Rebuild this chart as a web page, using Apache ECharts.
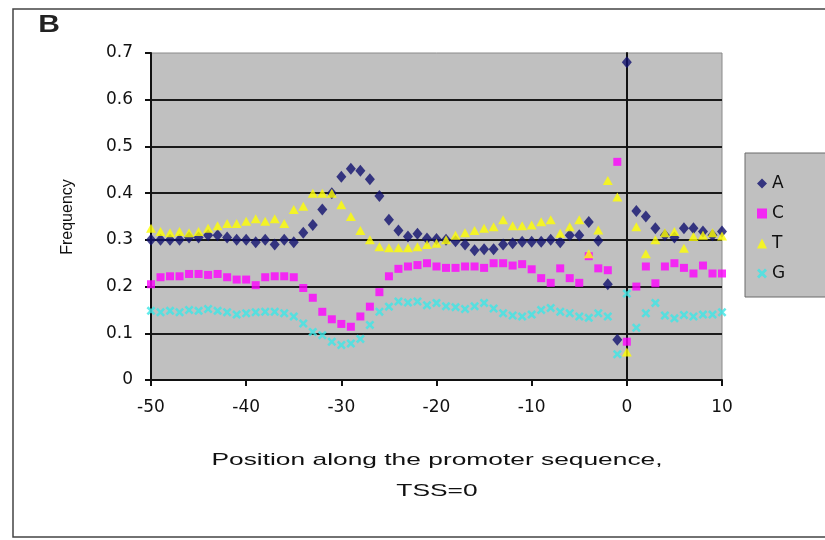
<!DOCTYPE html>
<html>
<head>
<meta charset="utf-8">
<script src="https://cdn.jsdelivr.net/npm/echarts@6/dist/echarts.min.js"></script>
<style>
html,body{margin:0;padding:0;background:#fff;}
#chart{width:825px;height:540px;}
</style>
</head>
<body>
<div id="chart"></div>
<script>
const positions = [-50,-49,-48,-47,-46,-45,-44,-43,-42,-41,
  -40,-39,-38,-37,-36,-35,-34,-33,-32,-31,
  -30,-29,-28,-27,-26,-25,-24,-23,-22,-21,
  -20,-19,-18,-17,-16,-15,-14,-13,-12,-11,
  -10,-9,-8,-7,-6,-5,-4,-3,-2,-1,
  0,1,2,3,4,5,6,7,8,9,10];

const seriesNames = ['A','C','T','G'];

const freqA = [0.30,0.30,0.30,0.30,0.305,0.305,0.31,0.31,0.305,0.30,
  0.30,0.295,0.30,0.29,0.30,0.295,0.315,0.332,0.365,0.40,
  0.435,0.452,0.448,0.43,0.394,0.343,0.32,0.307,0.313,0.303,
  0.302,0.30,0.297,0.29,0.278,0.28,0.28,0.29,0.293,0.296,
  0.296,0.296,0.30,0.295,0.31,0.31,0.338,0.298,0.205,0.086,
  0.68,0.362,0.35,0.325,0.31,0.305,0.325,0.325,0.318,0.31,0.318];

const freqC = [0.205,0.22,0.222,0.222,0.227,0.227,0.225,0.227,0.22,0.215,
  0.215,0.203,0.22,0.222,0.222,0.22,0.197,0.176,0.146,0.13,
  0.12,0.114,0.136,0.157,0.188,0.222,0.238,0.243,0.246,0.25,
  0.243,0.24,0.24,0.243,0.243,0.24,0.25,0.25,0.245,0.248,
  0.237,0.218,0.208,0.239,0.218,0.208,0.265,0.239,0.235,0.467,
  0.082,0.20,0.243,0.207,0.243,0.25,0.24,0.228,0.245,0.228,0.228];

const freqT = [0.325,0.318,0.315,0.318,0.315,0.318,0.325,0.33,0.335,0.335,
  0.34,0.345,0.34,0.345,0.335,0.365,0.372,0.40,0.40,0.40,
  0.375,0.35,0.32,0.30,0.285,0.283,0.283,0.283,0.285,0.29,
  0.293,0.30,0.31,0.315,0.32,0.325,0.328,0.343,0.33,0.33,
  0.332,0.339,0.343,0.314,0.328,0.343,0.27,0.321,0.427,0.392,
  0.06,0.328,0.27,0.30,0.315,0.318,0.282,0.307,0.31,0.315,0.308];

const freqG = [0.148,0.145,0.148,0.145,0.15,0.148,0.152,0.148,0.145,0.14,
  0.143,0.145,0.146,0.146,0.143,0.136,0.121,0.103,0.096,0.082,
  0.075,0.078,0.088,0.118,0.146,0.157,0.168,0.166,0.168,0.16,
  0.165,0.158,0.156,0.152,0.158,0.165,0.153,0.143,0.138,0.136,
  0.14,0.15,0.154,0.146,0.143,0.136,0.133,0.143,0.136,0.055,
  0.185,0.112,0.143,0.165,0.138,0.132,0.139,0.136,0.14,0.14,0.145];

const xTicks = [-50,-40,-30,-20,-10,0,10];
const yTicks = [0,0.1,0.2,0.3,0.4,0.5,0.6,0.7];

const panelLabel = 'B';
const yTitle = 'Frequency';
const xTitle1 = 'Position along the promoter sequence,';
const xTitle2 = 'TSS=0';

function pairs(vals){ return positions.map((p,i)=>[p, vals[i]]); }

const xSymbol = 'path://M0,2 L2,0 L5,3 L8,0 L10,2 L7,5 L10,8 L8,10 L5,7 L2,10 L0,8 L3,5 Z';

const chart = echarts.init(document.getElementById('chart'), null, {renderer:'canvas'});
const option = {
  backgroundColor:'#ffffff',
  animation:false,
  grid:{left:151, right:103, top:53, bottom:160, show:true, backgroundColor:'#c0c0c0', borderColor:'#8a8a8a', borderWidth:1},
  xAxis:{
    type:'value', min:xTicks[0], max:xTicks[xTicks.length-1], interval:10,
    axisLine:{show:true, onZero:false, lineStyle:{color:'#111', width:2}},
    axisTick:{show:true, length:6, lineStyle:{color:'#111', width:2}},
    splitLine:{show:false},
    axisLabel:{color:'#111', fontFamily:'DejaVu Sans', fontSize:17, margin:19,
      formatter:v=>xTicks.includes(v)?String(v):''}
  },
  yAxis:[{
    type:'value', min:0, max:0.7, interval:0.1, position:'left',
    axisLine:{show:true, onZero:false, lineStyle:{color:'#111', width:2}},
    axisTick:{show:true, length:6, lineStyle:{color:'#111', width:2}},
    splitLine:{show:true, showMaxLine:false, showMinLine:false, lineStyle:{color:'#1a1a1a', width:2}},
    axisLabel:{color:'#111', fontFamily:'DejaVu Sans', fontSize:17, margin:18,
      formatter:v=>{const t=yTicks.find(y=>Math.abs(y-v)<1e-9); return t===undefined?'':String(t);}}
  },{
    type:'value', min:0, max:0.7, interval:0.1, position:'right',
    axisLine:{show:true, onZero:true, onZeroAxisIndex:0, lineStyle:{color:'#111', width:2}},
    axisTick:{show:false}, axisLabel:{show:false}, splitLine:{show:false}
  }],
  legend:{
    orient:'vertical', left:745, top:153,
    itemWidth:10, itemHeight:10, itemGap:13,
    padding:[22,60,15,12],
    backgroundColor:'#c0c0c0', borderColor:'#6a6a6a', borderWidth:1,
    textStyle:{color:'#111', fontFamily:'DejaVu Sans', fontSize:17},
    data:seriesNames
  },
  series:[
    {name:seriesNames[0], type:'scatter', symbol:'diamond', symbolSize:[10,12],
     itemStyle:{color:'#10106e'}, data:pairs(freqA), z:2},
    {name:seriesNames[1], type:'scatter', symbol:'rect', symbolSize:8,
     itemStyle:{color:'#ff00ff'}, data:pairs(freqC), z:3},
    {name:seriesNames[2], type:'scatter', symbol:'triangle', symbolSize:[10,9],
     itemStyle:{color:'#ffff00'}, data:pairs(freqT), z:4},
    {name:seriesNames[3], type:'scatter', symbol:xSymbol, symbolSize:9,
     itemStyle:{color:'#3ce6e6'}, data:pairs(freqG), z:5}
  ],
  graphic:[
    {type:'rect', z:-10, silent:true, shape:{x:13, y:9, width:840, height:528},
     style:{fill:'none', stroke:'#444', lineWidth:1.5}},
    {type:'text', x:49, y:25, scaleX:1.25, silent:true,
     style:{text:panelLabel, font:'bold 24px "Liberation Sans"', fill:'#222', textAlign:'center', textVerticalAlign:'middle'}},
    {type:'text', x:68, y:217, rotation:Math.PI/2, silent:true,
     style:{text:yTitle, font:'16px "Liberation Sans"', fill:'#111', textAlign:'center', textVerticalAlign:'middle'}},
    {type:'text', x:437, y:460, scaleX:1.55, silent:true,
     style:{text:xTitle1, font:'17px "Liberation Sans"', fill:'#111', textAlign:'center', textVerticalAlign:'middle'}},
    {type:'text', x:437, y:491, scaleX:1.55, silent:true,
     style:{text:xTitle2, font:'17px "Liberation Sans"', fill:'#111', textAlign:'center', textVerticalAlign:'middle'}}
  ]
};
chart.setOption(option);
</script>
</body>
</html>
